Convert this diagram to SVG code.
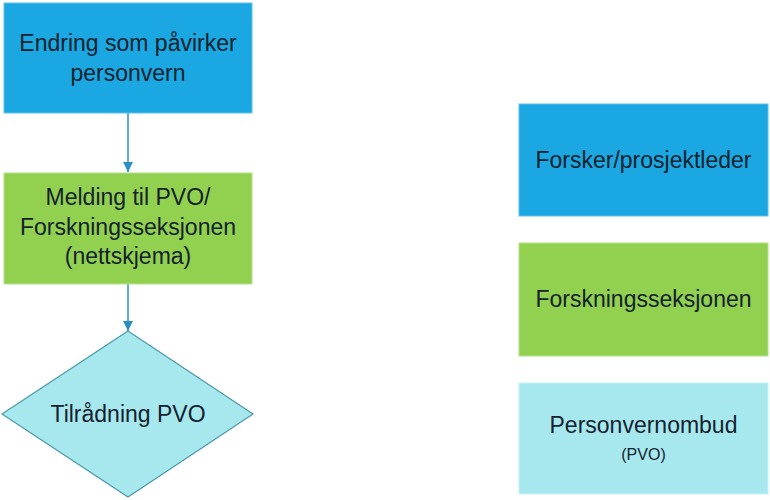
<svg xmlns="http://www.w3.org/2000/svg" width="770" height="500" viewBox="0 0 770 500">
<defs>
<style>
.t{font-family:"Liberation Sans",Arial,sans-serif;font-size:23px;fill:#13222d;text-anchor:middle}
.s{font-size:16px}
.blue{fill:#1ba7e2;stroke:#5cc2ec;stroke-width:1}
.green{fill:#92d050;stroke:#b4e08a;stroke-width:1}
.cyan{fill:#a7e8ef;stroke:#c8f2f5;stroke-width:1}
.dia{fill:#a7e8ef;stroke:#4a9aa8;stroke-width:1.2}
.c{stroke:#2b8fc6;stroke-width:1.5;fill:none}
</style>
<marker id="ah" viewBox="0 0 10 10" refX="10" refY="5" markerWidth="10" markerHeight="10" markerUnits="userSpaceOnUse" orient="auto">
<path d="M0,0 L10,5 L0,10 z" fill="#2b8fc6"/>
</marker>
</defs>
<g id="connectors">
<line class="c" x1="128" y1="113" x2="128" y2="172" marker-end="url(#ah)"/>
<line class="c" x1="128" y1="284" x2="128" y2="331" marker-end="url(#ah)"/>
</g>
<g id="n1">
<rect class="blue" x="4" y="3" width="248" height="110"/>
<text class="t" x="128" y="51">Endring som påvirker</text>
<text class="t" x="128" y="81">personvern</text>
</g>
<g id="n2">
<rect class="green" x="4" y="173" width="248" height="111"/>
<text class="t" x="128" y="205">Melding til PVO/</text>
<text class="t" x="128" y="235">Forskningsseksjonen</text>
<text class="t" x="128" y="264">(nettskjema)</text>
</g>
<g id="n3">
<polygon class="dia" points="128,331 253,414 128,497 2,414"/>
<text class="t" x="128" y="422">Tilrådning PVO</text>
</g>
<g id="legend1">
<rect class="blue" x="519" y="104" width="249" height="112"/>
<text class="t" x="643.5" y="168">Forsker/prosjektleder</text>
</g>
<g id="legend2">
<rect class="green" x="519" y="243" width="249" height="113"/>
<text class="t" x="643.5" y="307">Forskningsseksjonen</text>
</g>
<g id="legend3">
<rect class="cyan" x="519" y="383" width="249" height="111"/>
<text class="t" x="643.5" y="433">Personvernombud</text>
<text class="t s" x="643.5" y="460">(PVO)</text>
</g>
</svg>
